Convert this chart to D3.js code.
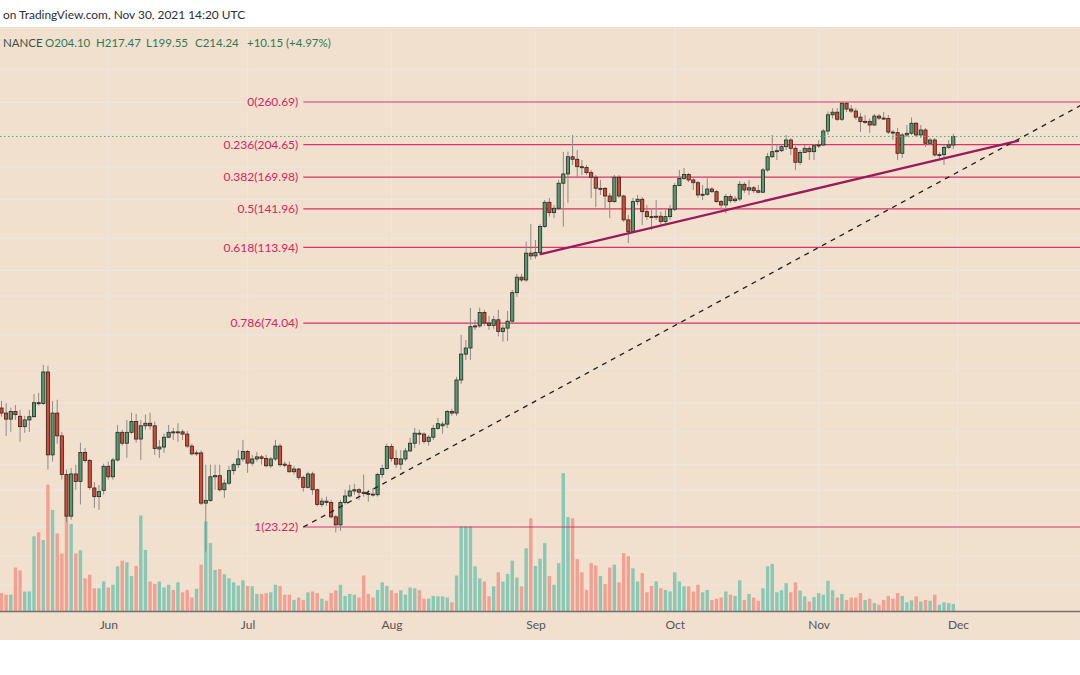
<!DOCTYPE html>
<html>
<head>
<meta charset="utf-8">
<script src="https://cdn.jsdelivr.net/npm/d3@7"></script>
<style>
  html, body { margin: 0; background: #fff; }
  svg { display: block; font-family: Lato, "Liberation Sans", sans-serif; }
</style>
</head>
<body>
<svg id="chart" width="1080" height="675"></svg>
<script>
const WIDTH = 1080;
const HEIGHT = 675;
const PANE_TOP = 27;
const PANE_BOTTOM = 640;
const AXIS_Y = 611.5;

// daily candles [open, high, low, close], one array per month
const monthStarts = ["2021-05-09", "2021-06-01", "2021-07-01", "2021-08-01", "2021-09-01", "2021-10-01", "2021-11-01"];

const mayCandles = [
  [45.7, 47.6, 43.5, 44.4], [44.4, 47.0, 39.0, 42.9], [42.9, 45.8, 39.9, 44.8], [44.8, 46.5, 42.7, 44.0],
  [43.6, 45.2, 37.7, 41.1], [41.1, 43.7, 39.7, 42.7], [42.7, 45.2, 39.9, 43.5], [43.5, 49.5, 43.2, 47.1],
  [47.1, 49.8, 46.3, 46.9], [46.9, 58.4, 46.5, 56.1], [56.1, 58.1, 32.2, 35.0], [35.0, 47.6, 33.7, 44.4],
  [44.4, 47.9, 37.3, 39.0], [39.0, 39.9, 30.4, 31.3], [31.3, 32.2, 23.9, 24.7], [24.7, 32.5, 24.2, 31.4],
  [31.4, 33.1, 28.7, 30.1], [30.1, 37.5, 26.4, 35.5], [35.5, 36.4, 33.5, 33.9], [33.9, 34.2, 28.7, 29.1],
  [29.0, 30.0, 25.9, 27.6], [27.6, 29.5, 25.6, 28.4], [28.6, 33.3, 27.9, 32.8]
];
const junCandles = [
  [32.8, 33.7, 30.4, 30.9], [30.9, 34.4, 30.4, 34.0], [34.0, 41.5, 33.7, 39.8], [39.8, 40.4, 36.9, 37.4],
  [37.4, 42.7, 34.4, 39.8], [39.8, 44.5, 39.5, 42.3], [42.3, 44.2, 37.5, 38.3], [38.3, 42.7, 34.0, 41.3],
  [41.3, 44.0, 40.4, 41.9], [41.9, 44.5, 40.4, 41.3], [41.3, 42.3, 35.0, 36.3], [36.2, 38.1, 34.4, 36.6],
  [36.6, 39.5, 35.4, 38.7], [38.7, 41.5, 38.5, 39.8], [39.9, 40.8, 38.1, 39.7], [39.7, 41.9, 37.7, 39.9],
  [39.9, 40.4, 38.1, 39.4], [39.4, 40.1, 36.4, 36.8], [36.8, 37.3, 34.9, 35.2], [35.2, 35.9, 34.8, 35.4],
  [35.4, 35.9, 26.3, 26.6], [26.6, 33.1, 20.2, 27.0], [27.0, 33.1, 26.8, 30.9], [30.9, 33.1, 28.7, 31.1],
  [31.1, 33.1, 28.4, 28.7], [28.7, 30.4, 27.4, 29.8], [29.8, 32.9, 29.5, 32.0], [32.0, 33.5, 31.3, 33.1],
  [33.1, 36.0, 32.5, 34.2], [34.2, 38.1, 33.7, 35.7]
];
const julCandles = [
  [35.7, 36.0, 31.6, 33.4], [33.4, 35.0, 32.9, 34.2], [34.2, 35.6, 33.7, 34.6], [34.6, 35.0, 33.1, 34.3],
  [34.3, 35.0, 32.6, 32.9], [32.9, 34.6, 32.5, 34.2], [34.2, 38.1, 33.8, 36.8], [36.8, 37.3, 32.7, 33.1],
  [33.2, 33.7, 32.6, 33.0], [33.0, 33.7, 31.6, 31.8], [31.8, 32.9, 31.3, 32.3], [32.3, 32.5, 30.4, 30.8],
  [30.8, 31.1, 28.4, 29.1], [29.1, 31.8, 28.9, 31.4], [31.4, 31.8, 27.9, 28.7], [28.7, 28.9, 26.1, 26.4],
  [26.4, 27.4, 26.0, 26.9], [26.9, 27.6, 26.2, 26.7], [26.7, 27.1, 24.4, 24.6], [24.6, 24.9, 22.5, 23.5],
  [23.5, 27.1, 22.7, 26.7], [26.7, 28.7, 26.4, 27.7], [27.7, 29.5, 27.5, 28.5], [28.5, 29.7, 27.9, 28.7],
  [28.7, 29.0, 27.1, 28.3], [28.3, 31.3, 27.6, 28.1], [28.1, 28.7, 26.8, 28.0], [28.0, 29.0, 27.6, 27.9],
  [27.9, 31.6, 27.6, 31.3], [31.3, 33.1, 30.7, 32.4], [32.4, 37.3, 32.2, 36.7]
];
const augCandles = [
  [36.7, 37.3, 33.7, 34.3], [34.3, 36.0, 32.5, 33.2], [33.2, 36.0, 32.2, 34.2], [34.2, 36.4, 33.8, 35.8],
  [35.8, 38.6, 35.6, 37.4], [37.4, 40.8, 36.4, 39.6], [39.6, 40.4, 37.1, 39.4], [39.4, 39.8, 37.3, 37.8],
  [37.8, 39.2, 36.9, 38.7], [38.7, 41.5, 38.1, 40.7], [40.7, 43.2, 40.4, 41.8], [41.3, 42.3, 39.5, 41.7],
  [41.7, 45.2, 40.8, 44.8], [44.8, 45.5, 43.7, 44.4], [44.4, 54.6, 43.7, 53.6], [53.6, 69.3, 52.4, 62.1],
  [62.1, 67.3, 60.1, 64.3], [64.3, 80.8, 60.1, 72.6], [72.6, 75.5, 71.3, 72.9], [72.9, 80.9, 72.1, 78.7],
  [78.7, 79.9, 72.9, 74.1], [74.1, 77.2, 71.3, 73.1], [73.1, 77.2, 71.7, 75.5], [75.5, 79.9, 68.7, 70.6],
  [70.6, 73.4, 66.7, 72.0], [72.0, 79.4, 66.9, 74.9], [74.9, 89.5, 73.8, 88.1], [88.1, 98.0, 86.0, 96.2],
  [96.2, 98.0, 93.7, 94.7], [94.7, 117.8, 93.7, 110.3], [110.3, 130.1, 106.2, 108.6]
];
const sepCandles = [
  [108.6, 118.9, 106.8, 110.7], [110.7, 130.1, 109.8, 128.3], [128.3, 149.3, 127.4, 147.3], [147.3, 151.0, 135.8, 138.9],
  [138.9, 145.1, 134.8, 142.4], [142.4, 167.3, 141.0, 164.2], [164.2, 196.2, 128.3, 173.1], [173.1, 196.6, 147.0, 190.9],
  [190.9, 216.1, 182.2, 188.2], [188.2, 198.4, 169.0, 180.4], [180.4, 187.4, 172.1, 179.6], [179.6, 182.2, 172.1, 174.4],
  [174.4, 177.1, 150.8, 169.9], [169.9, 172.1, 143.3, 159.6], [158.9, 167.3, 153.6, 159.5], [159.5, 160.6, 141.0, 152.7],
  [152.7, 155.3, 134.6, 147.9], [147.9, 172.1, 146.8, 169.9], [169.9, 172.1, 151.0, 152.7], [152.7, 153.6, 131.8, 133.3],
  [133.3, 137.1, 116.7, 124.7], [124.7, 151.0, 123.8, 147.9], [147.9, 153.6, 145.1, 149.9], [149.9, 151.8, 129.5, 139.7],
  [139.7, 145.1, 133.3, 135.8], [135.8, 141.0, 125.9, 135.5], [135.5, 149.3, 133.3, 136.1], [136.1, 139.5, 129.5, 132.0],
  [132.0, 141.0, 130.3, 135.8], [135.8, 145.1, 133.3, 141.6]
];
const octCandles = [
  [141.6, 164.5, 140.2, 162.0], [162.0, 177.1, 161.5, 168.7], [168.7, 179.1, 167.5, 172.6], [172.6, 174.1, 165.3, 167.3],
  [167.3, 169.0, 158.0, 164.7], [164.7, 166.3, 151.0, 153.6], [153.6, 162.6, 149.3, 154.2], [154.2, 169.0, 153.0, 158.9],
  [158.9, 160.6, 155.4, 156.5], [156.5, 158.0, 147.0, 147.9], [147.9, 149.3, 142.6, 145.1], [145.1, 154.5, 138.4, 152.2],
  [152.2, 154.5, 146.8, 148.7], [148.7, 152.7, 147.0, 150.1], [150.1, 166.3, 148.4, 163.2], [163.2, 165.3, 155.4, 158.0],
  [158.0, 167.3, 153.6, 160.0], [160.0, 161.7, 155.4, 157.4], [157.4, 162.6, 155.1, 156.0], [156.0, 179.1, 155.4, 177.1],
  [177.1, 195.1, 175.1, 190.9], [190.9, 216.1, 189.6, 196.5], [196.5, 204.9, 187.4, 197.6], [197.6, 205.4, 196.1, 202.2],
  [202.2, 216.1, 198.4, 210.0], [210.0, 212.4, 192.9, 200.3], [200.3, 203.0, 177.1, 185.0], [185.0, 198.4, 182.2, 195.7],
  [195.7, 204.1, 195.0, 200.3], [200.3, 203.0, 187.4, 196.5], [196.5, 205.4, 187.4, 203.3]
];
const novCandles = [
  [203.3, 210.0, 200.6, 204.1], [204.1, 223.6, 203.0, 221.0], [221.0, 247.1, 216.1, 242.4], [242.4, 251.6, 237.4, 246.0],
  [246.0, 251.6, 234.0, 236.3], [236.3, 260.69, 234.0, 258.8], [258.8, 259.9, 246.2, 250.4], [250.4, 256.3, 244.8, 247.6],
  [247.6, 251.6, 236.0, 239.2], [239.2, 244.8, 219.7, 233.1], [233.1, 242.1, 230.0, 233.5], [233.5, 237.4, 218.5, 228.7],
  [228.7, 243.5, 227.4, 240.6], [240.6, 243.5, 235.3, 237.9], [237.9, 246.2, 235.3, 237.4], [237.4, 242.1, 217.3, 219.7],
  [219.7, 222.3, 210.0, 219.0], [219.0, 224.8, 187.4, 194.7], [194.7, 218.5, 189.6, 216.1], [216.1, 228.7, 213.7, 218.2],
  [218.2, 238.7, 216.1, 231.0], [231.0, 232.7, 213.7, 216.1], [216.1, 228.7, 212.4, 222.3], [222.3, 224.8, 201.8, 206.1],
  [206.1, 212.4, 204.1, 210.0], [210.0, 212.4, 190.7, 192.9], [192.5, 196.1, 189.6, 193.2], [193.2, 204.1, 182.2, 201.4],
  [201.4, 210.0, 199.5, 204.1], [204.10, 217.47, 199.55, 214.24]
];

// daily volume, millions
const mayVolume = [4.6, 4.2, 4.2, 11.0, 10.3, 5.0, 5.0, 18.8, 19.8, 17.9, 31.7, 25.4, 19.5, 14.5, 24.2, 21.9, 14.5, 15.3, 8.3, 9.2, 5.8, 5.8, 7.5];
const junVolume = [6.0, 6.7, 11.3, 12.7, 12.3, 8.9, 11.4, 24.0, 15.4, 7.5, 6.9, 7.5, 6.0, 6.7, 5.4, 7.3, 4.8, 5.4, 3.5, 5.7, 11.7, 22.5, 17.1, 10.4, 10.6, 9.3, 8.3, 7.3, 6.5, 7.8];
const julVolume = [6.4, 6.3, 4.4, 4.4, 4.6, 4.8, 6.7, 6.4, 4.2, 4.2, 2.9, 3.5, 2.9, 4.8, 5.0, 4.6, 3.2, 2.7, 4.6, 5.3, 6.7, 3.9, 4.4, 4.2, 3.5, 9.0, 4.4, 3.5, 5.4, 7.3, 6.4];
const augVolume = [5.3, 4.6, 5.3, 4.2, 6.0, 5.8, 5.3, 3.2, 3.2, 3.9, 3.8, 3.8, 3.5, 2.3, 9.0, 21.3, 21.3, 21.3, 11.3, 8.3, 7.5, 3.8, 6.3, 9.8, 7.5, 9.4, 12.7, 8.5, 6.3, 15.8, 23.3];
const sepVolume = [11.4, 13.2, 17.1, 8.9, 6.7, 12.1, 34.6, 23.6, 23.3, 13.1, 9.8, 5.4, 12.1, 11.5, 8.9, 6.9, 11.0, 11.7, 7.3, 14.6, 13.8, 10.8, 7.5, 9.6, 4.8, 6.4, 7.5, 5.8, 5.4, 5.0];
const octVolume = [9.8, 7.5, 6.3, 6.3, 5.0, 6.7, 4.8, 5.4, 2.9, 3.2, 3.5, 5.0, 4.2, 3.9, 7.8, 2.9, 4.4, 3.5, 2.7, 5.8, 11.3, 11.9, 4.8, 5.3, 7.1, 4.8, 7.3, 5.2, 3.8, 2.5, 3.6];
const novVolume = [4.6, 4.2, 7.7, 5.3, 3.5, 4.4, 2.9, 3.5, 3.5, 4.6, 2.9, 3.2, 2.1, 1.7, 2.9, 3.9, 3.2, 4.6, 3.9, 2.3, 2.8, 3.8, 2.5, 2.9, 2.7, 4.2, 1.7, 2.3, 2.1, 1.9];

// fibonacci retracement
const fibRatios = ["0", "0.236", "0.382", "0.5", "0.618", "0.786", "1"];
const fibPrices = [260.69, 204.65, 169.98, 141.96, 113.94, 74.04, 23.22];
const fibFrom = { date: "2021-07-13T00:00:00Z", price: 23.22 };
const fibTo = { date: "2021-12-28T19:00:00Z", price: 260.69 };

// ascending trend line
const trendFrom = { date: "2021-09-02T03:00:00Z", price: 109.7 };
const trendTo = { date: "2021-12-13T22:00:00Z", price: 209.0 };

// axes
const monthTicks = ["2021-06-01", "2021-07-01", "2021-08-01", "2021-09-01", "2021-10-01", "2021-11-01", "2021-12-01"];
const gridPrices = [314, 260, 220, 180, 150, 120, 100, 86.5, 69.3, 57.4, 47, 39.9, 33.2, 28.6, 23.2, 19.7, 16.7];

// header
const publishedText = "on TradingView.com, Nov 30, 2021 14:20 UTC";
const symbolTail = "NANCE";
const legendItems = ["O204.10", "H217.47", "L199.55", "C214.24", "+10.15 (+4.97%)"];
const lastClose = 214.24;

const candleRows = [mayCandles, junCandles, julCandles, augCandles, sepCandles, octCandles, novCandles];
const volumeRows = [mayVolume, junVolume, julVolume, augVolume, sepVolume, octVolume, novVolume];

const candles = candleRows.flatMap((rows, m) =>
  rows.map((r, k) => ({
    date: d3.utcDay.offset(new Date(monthStarts[m] + "T00:00:00Z"), k),
    open: r[0],
    high: r[1],
    low: r[2],
    close: r[3],
    volume: volumeRows[m][k]
  }))
);

const x = d3.scaleUtc()
  .domain([new Date("2021-05-09T00:00:00Z"), new Date("2021-12-01T00:00:00Z")])
  .range([1.5, 1.5 + 206 * 4.643]);
const y = d3.scaleLog().domain([23.22, 260.69]).range([527, 102]);
const yVol = d3.scaleLinear().domain([0, 40]).range([AXIS_Y, AXIS_Y - 160]);

const svg = d3.select("#chart");

svg.append("rect").attr("width", WIDTH).attr("height", HEIGHT).attr("fill", "#ffffff");
svg.append("rect")
  .attr("x", 0).attr("y", PANE_TOP)
  .attr("width", WIDTH).attr("height", PANE_BOTTOM - PANE_TOP)
  .attr("fill", "#f2e0cf");

svg.append("defs").append("clipPath").attr("id", "pane-clip")
  .append("rect").attr("x", 0).attr("y", PANE_TOP).attr("width", WIDTH).attr("height", AXIS_Y - PANE_TOP);

// grid
const grid = svg.append("g").attr("stroke", "#eee7e0").attr("stroke-width", 1);
grid.selectAll(".hgrid")
  .data(gridPrices)
  .enter()
  .append("line")
  .attr("x1", 0).attr("x2", WIDTH)
  .attr("y1", (d) => y(d)).attr("y2", (d) => y(d));
grid.selectAll(".vgrid")
  .data(monthTicks)
  .enter()
  .append("line")
  .attr("x1", (d) => x(new Date(d))).attr("x2", (d) => x(new Date(d)))
  .attr("y1", PANE_TOP).attr("y2", AXIS_Y);

const pane = svg.append("g").attr("clip-path", "url(#pane-clip)");

// volume
pane.append("g")
  .selectAll("rect")
  .data(candles)
  .enter()
  .append("rect")
  .attr("x", (d) => x(d.date) - 1.7)
  .attr("width", 3.4)
  .attr("y", (d) => yVol(d.volume))
  .attr("height", (d) => AXIS_Y - yVol(d.volume))
  .attr("fill", (d) => (d.close >= d.open ? "#88c8b5" : "#f2a092"));

// fib levels
const fibX = x(new Date(fibFrom.date));
const fib = pane.append("g");
fib.selectAll("line")
  .data(fibPrices)
  .enter()
  .append("line")
  .attr("x1", fibX).attr("x2", WIDTH)
  .attr("y1", (d) => y(d)).attr("y2", (d) => y(d))
  .attr("stroke", "#d6336c")
  .attr("stroke-width", 1.2);

// candles
const candleG = pane.append("g");
candleG.selectAll(".wick")
  .data(candles)
  .enter()
  .append("line")
  .attr("x1", (d) => x(d.date)).attr("x2", (d) => x(d.date))
  .attr("y1", (d) => y(d.high)).attr("y2", (d) => y(d.low))
  .attr("stroke", "#8e8a86")
  .attr("stroke-width", 1);
candleG.selectAll(".body")
  .data(candles)
  .enter()
  .append("rect")
  .attr("x", (d) => x(d.date) - 1.6)
  .attr("width", 3.2)
  .attr("y", (d) => y(Math.max(d.open, d.close)))
  .attr("height", (d) => Math.max(1, Math.abs(y(d.open) - y(d.close))))
  .attr("fill", (d) => (d.close >= d.open ? "#4f9d73" : "#d9472f"))
  .attr("stroke", "#2b2622")
  .attr("stroke-width", 0.8);

// last price line
pane.append("line")
  .attr("x1", 0).attr("x2", WIDTH)
  .attr("y1", y(lastClose)).attr("y2", y(lastClose))
  .attr("stroke", "#5aa97f")
  .attr("stroke-width", 1)
  .attr("stroke-dasharray", "1.5,2.5");

// fib trend (dashed) and support line
pane.append("line")
  .attr("x1", fibX).attr("y1", y(fibFrom.price))
  .attr("x2", x(new Date(fibTo.date))).attr("y2", y(fibTo.price))
  .attr("stroke", "#1e1e1e")
  .attr("stroke-width", 1.3)
  .attr("stroke-dasharray", "5,5");

pane.append("line")
  .attr("x1", x(new Date(trendFrom.date))).attr("y1", y(trendFrom.price))
  .attr("x2", x(new Date(trendTo.date))).attr("y2", y(trendTo.price))
  .attr("stroke", "#9a1a5c")
  .attr("stroke-width", 2.4)
  .attr("stroke-linecap", "round");

// fib labels
svg.append("g")
  .selectAll("text")
  .data(fibPrices)
  .enter()
  .append("text")
  .attr("x", fibX - 5)
  .attr("y", (d) => y(d))
  .attr("dy", "0.35em")
  .attr("text-anchor", "end")
  .attr("font-size", 12)
  .attr("fill", "#d4245e")
  .text((d, i) => `${fibRatios[i]}(${d.toFixed(2)})`);

// time axis
svg.append("line")
  .attr("x1", 0).attr("x2", WIDTH)
  .attr("y1", AXIS_Y).attr("y2", AXIS_Y)
  .attr("stroke", "#707070")
  .attr("stroke-width", 1.5);

const axis = svg.append("g")
  .attr("transform", `translate(0,${AXIS_Y})`)
  .call(
    d3.axisBottom(x)
      .tickValues(monthTicks.map((d) => new Date(d + "T00:00:00Z")))
      .tickFormat(d3.utcFormat("%b"))
      .tickSize(0)
      .tickPadding(9)
  );
axis.select(".domain").remove();
axis.selectAll("text")
  .attr("font-family", "Lato, 'Liberation Sans', sans-serif")
  .attr("font-size", 12)
  .attr("fill", "#555");

// header
svg.append("text")
  .attr("x", 3).attr("y", 19)
  .attr("font-size", 11.9)
  .attr("fill", "#2a2e39")
  .text(publishedText);

const legendX = [45, 96, 146, 195, 247];
svg.append("text")
  .attr("x", 3).attr("y", 47)
  .attr("font-size", 11.5)
  .attr("fill", "#3c5246")
  .text(symbolTail);
svg.append("g")
  .selectAll("text")
  .data(legendItems)
  .enter()
  .append("text")
  .attr("x", (d, i) => legendX[i])
  .attr("y", 47)
  .attr("font-size", 11.5)
  .attr("fill", "#2f7a52")
  .text((d) => d);
</script>
</body>
</html>
